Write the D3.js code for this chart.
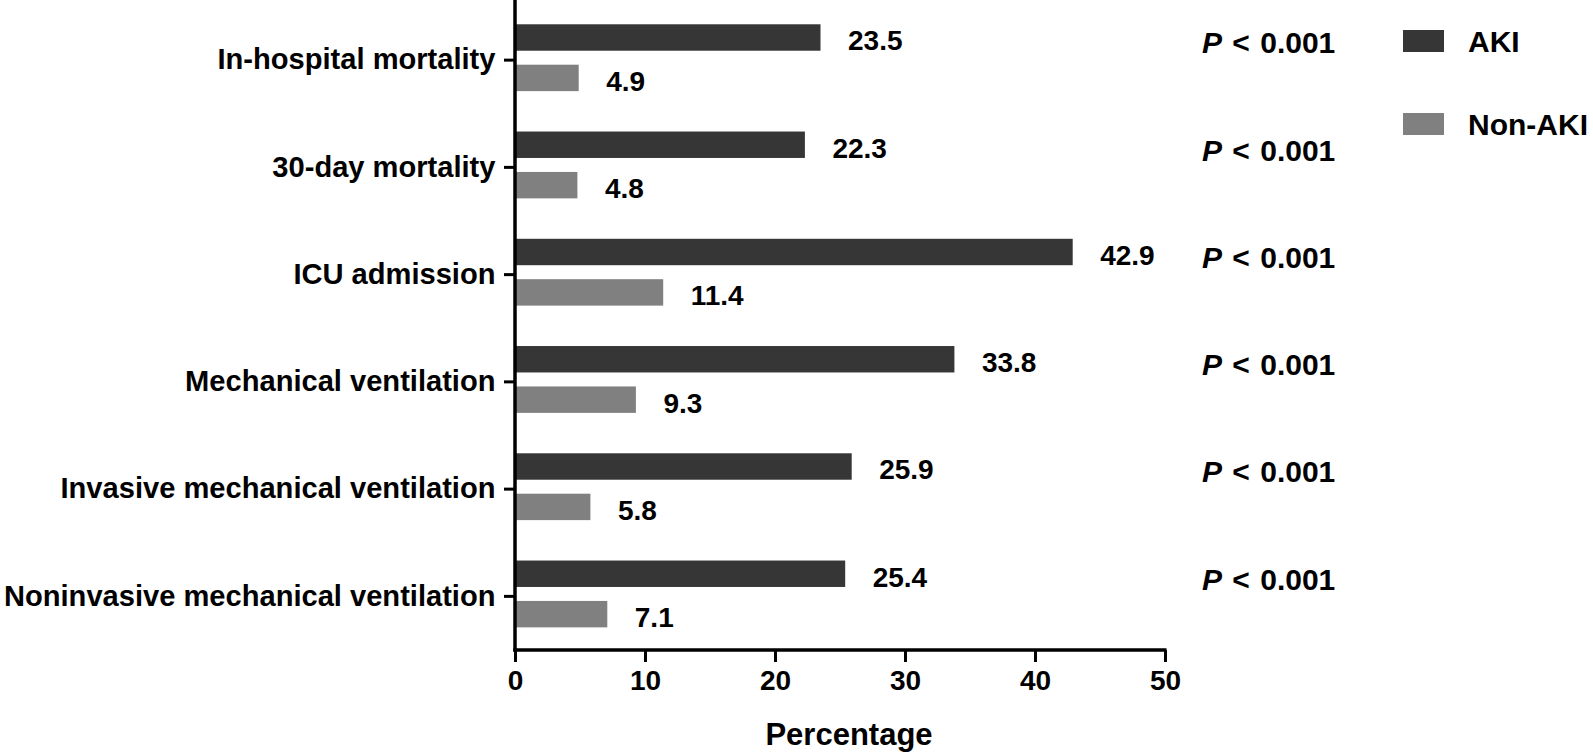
<!DOCTYPE html>
<html>
<head>
<meta charset="utf-8">
<script src="https://cdn.jsdelivr.net/npm/d3@7"></script>
<style>
  html, body { margin: 0; padding: 0; background: #fff; }
  svg { display: block; }
  text { font-family: "Liberation Sans", Arial, Helvetica, sans-serif; font-weight: bold; fill: #000; }
</style>
</head>
<body>
<svg id="chart" width="1593" height="754"></svg>
<script>
const categories = [
  "In-hospital mortality",
  "30-day mortality",
  "ICU admission",
  "Mechanical ventilation",
  "Invasive mechanical ventilation",
  "Noninvasive mechanical ventilation"
];
const seriesNames = ["AKI", "Non-AKI"];
const akiValues = [23.5, 22.3, 42.9, 33.8, 25.9, 25.4];
const nonAkiValues = [4.9, 4.8, 11.4, 9.3, 5.8, 7.1];
const pLabels = ["< 0.001", "< 0.001", "< 0.001", "< 0.001", "< 0.001", "< 0.001"];
const xTicks = [0, 10, 20, 30, 40, 50];
const xTitle = "Percentage";

const colors = { "AKI": "#363636", "Non-AKI": "#808080" };

const svg = d3.select("#chart");
const mLeft = 515, mRight = 1165, mTop = 6.5, mBottom = 650;

const x = d3.scaleLinear().domain([0, 50]).range([mLeft, mRight]);
const y0 = d3.scaleBand().domain(categories).range([mTop, mBottom]).padding(0);
const y1 = d3.scaleBand().domain(seriesNames).range([0, y0.bandwidth()])
  .paddingInner(0.346).paddingOuter(0.5).align(0.44);

const rows = categories.map((c, i) => ({
  cat: c,
  vals: [{ s: "AKI", v: akiValues[i] }, { s: "Non-AKI", v: nonAkiValues[i] }],
  p: pLabels[i]
}));

// bars
const g = svg.append("g");
const rowG = g.selectAll("g.row").data(rows).join("g")
  .attr("transform", d => `translate(0,${y0(d.cat)})`);
rowG.selectAll("rect").data(d => d.vals).join("rect")
  .attr("x", x(0))
  .attr("y", d => y1(d.s))
  .attr("width", d => x(d.v) - x(0))
  .attr("height", y1.bandwidth())
  .attr("fill", d => colors[d.s]);
rowG.selectAll("text.val").data(d => d.vals).join("text")
  .attr("class", "val")
  .attr("x", d => x(d.v) + 27.5)
  .attr("y", d => y1(d.s) + y1.bandwidth() / 2)
  .attr("dy", "0.46em")
  .attr("font-size", 28)
  .text(d => d.v.toFixed(1));

// P labels
const pText = rowG.append("text")
  .attr("x", 1202)
  .attr("y", d => y1("AKI") + y1.bandwidth() / 2 + 5)
  .attr("dy", "0.36em")
  .attr("font-size", 30)
  .attr("word-spacing", 2);
pText.append("tspan").attr("font-style", "italic").text("P");
pText.append("tspan").text(d => " " + d.p);

// y axis
const yAxis = d3.axisLeft(y0).tickSize(11).tickPadding(8.5);
const yg = svg.append("g").attr("transform", `translate(${mLeft},0)`).call(yAxis);
yg.select(".domain").remove();
yg.selectAll(".tick line").attr("stroke", "#000").attr("stroke-width", 3);
yg.selectAll(".tick text").attr("font-size", 29.1).attr("font-family", null).attr("fill", "#000");
yg.append("line").attr("x1", 0).attr("x2", 0).attr("y1", 0).attr("y2", mBottom + 1.5)
  .attr("stroke", "#000").attr("stroke-width", 3.5);

// x axis
const xAxis = d3.axisBottom(x).tickValues(xTicks).tickSize(12).tickPadding(8).tickFormat(d3.format("d"));
const xg = svg.append("g").attr("transform", `translate(0,${mBottom})`).call(xAxis);
xg.select(".domain").remove();
xg.append("line").attr("x1", mLeft - 1.75).attr("x2", mRight + 1.5).attr("y1", 0).attr("y2", 0)
  .attr("stroke", "#000").attr("stroke-width", 3.5);
xg.selectAll(".tick line").attr("stroke", "#000").attr("stroke-width", 3);
xg.selectAll(".tick text").attr("font-size", 28).attr("font-family", null).attr("fill", "#000");

svg.append("text")
  .attr("x", 849)
  .attr("y", 745)
  .attr("text-anchor", "middle")
  .attr("font-size", 31)
  .text(xTitle);

// legend
const legend = svg.append("g");
const legY = [41, 124];
seriesNames.forEach((s, i) => {
  legend.append("rect").attr("x", 1403).attr("y", legY[i] - 11).attr("width", 41).attr("height", 22)
    .attr("fill", colors[s]);
  legend.append("text").attr("x", 1468).attr("y", legY[i]).attr("dy", "0.38em")
    .attr("font-size", 30).text(s);
});
</script>
</body>
</html>
